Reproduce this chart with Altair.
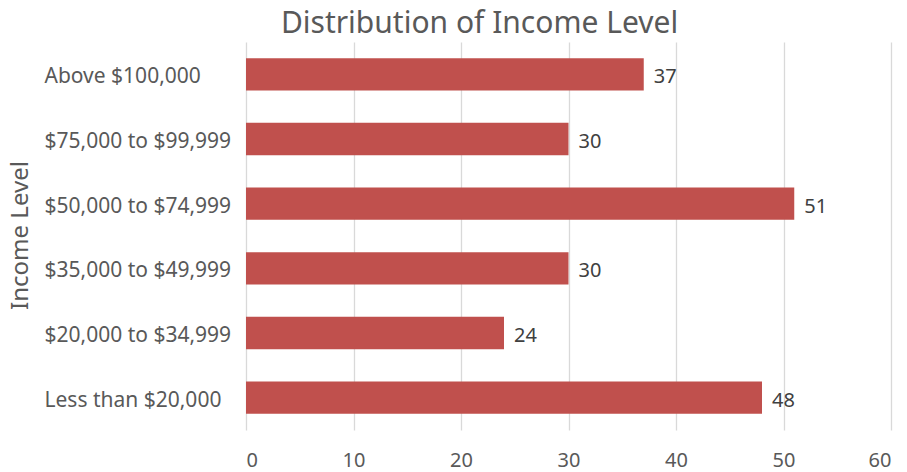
import altair as alt
import pandas as pd

categories = ["Above $100,000", "$75,000 to $99,999", "$50,000 to $74,999",
              "$35,000 to $49,999", "$20,000 to $34,999", "Less than $20,000"]
values = [37, 30, 51, 30, 24, 48]

df = pd.DataFrame({"Income Level": categories, "Count": values})

FONT = "Noto Sans"
GRAY = "#595959"

base = alt.Chart(df).encode(
    y=alt.Y("Income Level:N", sort=categories,
            scale=alt.Scale(paddingInner=0.5, paddingOuter=0.25),
            axis=alt.Axis(title="Income Level", ticks=False, domain=False,
                          labelAlign="left", labelPadding=202, labelLimit=400,
                          labelOffset=3,
                          labelFont=FONT, labelFontSize=21, labelColor=GRAY,
                          titleFont=FONT, titleFontSize=24, titleColor=GRAY,
                          titleFontWeight="normal", titleX=-226, titleY=193,
                          titleAngle=-90, titleAlign="center", titleBaseline="middle",
                          grid=False)),
)

bars = base.mark_bar(color="#C0504D").encode(
    x=alt.X("Count:Q", scale=alt.Scale(domain=[0, 60], nice=False),
            axis=alt.Axis(values=[0, 10, 20, 30, 40, 50, 60], title=None,
                          domain=False, ticks=False, labelPadding=20,
                          labelFont=FONT, labelFontSize=20, labelColor=GRAY,
                          grid=True, gridColor="#d9d9d9", gridWidth=1.3)),
)

labels = base.mark_text(align="left", baseline="middle", dx=10, dy=3,
                        font=FONT, fontSize=20, color="#404040").encode(
    x="Count:Q", text="Count:Q"
)

chart = (bars + labels).properties(
    width=645, height=388,
    title=alt.TitleParams("Distribution of Income Level", font=FONT, fontSize=30,
                          fontWeight="normal", color=GRAY, anchor="middle",
                          dx=-89, offset=3),
    padding={"left": 246, "top": 42, "right": 16, "bottom": 42},
    autosize=alt.AutoSizeParams(type="none"),
).configure_view(stroke=None)

chart.save("out.html", embed_options={"renderer": "svg", "actions": False})
